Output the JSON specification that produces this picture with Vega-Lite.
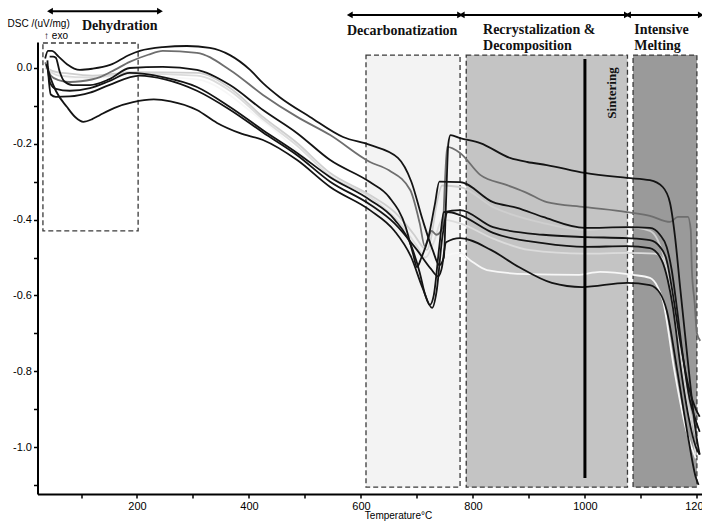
{
  "$schema": "https://vega.github.io/schema/vega-lite/v6.json",
  "width": 664.5,
  "height": 452,
  "autosize": {"type": "none"},
  "padding": {"left": 37.5, "top": 42, "right": 0, "bottom": 27},
  "background": "white",
  "config": {
    "view": {"stroke": null},
    "axis": {"grid": false, "domainColor": "#000", "tickColor": "#000", "labelColor": "#000", "titleColor": "#000", "labelFont": "Liberation Sans", "titleFont": "Liberation Sans"}
  },
  "datasets": {
    "boxes": [
      {"zone": "Dehydration", "T": 32, "T2": 202, "v": 0.066, "v2": -0.43},
      {"zone": "Decarbonatization", "T": 609, "T2": 777, "v": 0.034, "v2": -1.106},
      {"zone": "Recrystalization", "T": 788, "T2": 1076, "v": 0.034, "v2": -1.106},
      {"zone": "Melting", "T": 1086, "T2": 1200, "v": 0.034, "v2": -1.106}
    ],
    "sinter": [{"T": 1000, "v": 0.024, "v2": -1.082}],
    "arrows": [
      {"zone": "Dehydration", "T": 44.6, "T2": 241, "v": 0.150},
      {"zone": "Decarbonatization", "T": 580, "T2": 777, "v": 0.140},
      {"zone": "Recrystalization", "T": 780, "T2": 1075, "v": 0.140},
      {"zone": "Melting", "T": 1077, "T2": 1207, "v": 0.140}
    ],
    "labels": [
      {"text": "Dehydration", "T": 101.8, "v": 0.111},
      {"text": "Decarbonatization", "T": 575, "v": 0.098},
      {"text": "Recrystalization &", "T": 818, "v": 0.100},
      {"text": "Decomposition", "T": 818, "v": 0.058},
      {"text": "Intensive", "T": 1088, "v": 0.100},
      {"text": "Melting", "T": 1088, "v": 0.058}
    ],
    "sintlabel": [{"text": "Sintering", "T": 1048, "v": -0.066}],
    "exo": [{"text": "↑ exo", "T": 34, "v": 0.084}],
    "curves": [
      {"id": "a_W", "T": 38, "v": 0.0}, {"id": "a_W", "T": 100, "v": -0.03}, {"id": "a_W", "T": 187, "v": -0.02}, {"id": "a_W", "T": 307, "v": -0.03}, {"id": "a_W", "T": 425, "v": -0.14}, {"id": "a_W", "T": 545, "v": -0.29}, {"id": "a_W", "T": 616, "v": -0.35}, {"id": "a_W", "T": 680, "v": -0.43}, {"id": "a_W", "T": 710, "v": -0.49}, {"id": "a_W", "T": 730, "v": -0.52}, {"id": "a_W", "T": 745, "v": -0.5}, {"id": "a_W", "T": 777, "v": -0.488}, {"id": "a_W", "T": 795, "v": -0.507}, {"id": "a_W", "T": 825, "v": -0.533}, {"id": "a_W", "T": 897, "v": -0.544}, {"id": "a_W", "T": 986, "v": -0.546}, {"id": "a_W", "T": 1027, "v": -0.538}, {"id": "a_W", "T": 1086, "v": -0.546}, {"id": "a_W", "T": 1116, "v": -0.554}, {"id": "a_W", "T": 1130, "v": -0.578}, {"id": "a_W", "T": 1139, "v": -0.612}, {"id": "a_W", "T": 1160, "v": -0.8}, {"id": "a_W", "T": 1180, "v": -0.95}, {"id": "a_W", "T": 1198, "v": -1.03},

      {"id": "b_LG2", "T": 36, "v": 0.0}, {"id": "b_LG2", "T": 60, "v": -0.02}, {"id": "b_LG2", "T": 120, "v": -0.025}, {"id": "b_LG2", "T": 187, "v": -0.015}, {"id": "b_LG2", "T": 307, "v": -0.02}, {"id": "b_LG2", "T": 366, "v": -0.06}, {"id": "b_LG2", "T": 425, "v": -0.135}, {"id": "b_LG2", "T": 486, "v": -0.205}, {"id": "b_LG2", "T": 545, "v": -0.285}, {"id": "b_LG2", "T": 616, "v": -0.34}, {"id": "b_LG2", "T": 670, "v": -0.41}, {"id": "b_LG2", "T": 700, "v": -0.47}, {"id": "b_LG2", "T": 715, "v": -0.5}, {"id": "b_LG2", "T": 730, "v": -0.46}, {"id": "b_LG2", "T": 745, "v": -0.4}, {"id": "b_LG2", "T": 777, "v": -0.41}, {"id": "b_LG2", "T": 836, "v": -0.45}, {"id": "b_LG2", "T": 900, "v": -0.48}, {"id": "b_LG2", "T": 1000, "v": -0.49}, {"id": "b_LG2", "T": 1075, "v": -0.488}, {"id": "b_LG2", "T": 1125, "v": -0.49}, {"id": "b_LG2", "T": 1145, "v": -0.52}, {"id": "b_LG2", "T": 1160, "v": -0.62}, {"id": "b_LG2", "T": 1180, "v": -0.85}, {"id": "b_LG2", "T": 1198, "v": -1.02},

      {"id": "c_LG1", "T": 36, "v": 0.005}, {"id": "c_LG1", "T": 50, "v": -0.008}, {"id": "c_LG1", "T": 80, "v": -0.015}, {"id": "c_LG1", "T": 120, "v": -0.02}, {"id": "c_LG1", "T": 160, "v": -0.015}, {"id": "c_LG1", "T": 187, "v": -0.011}, {"id": "c_LG1", "T": 307, "v": -0.013}, {"id": "c_LG1", "T": 366, "v": -0.053}, {"id": "c_LG1", "T": 425, "v": -0.129}, {"id": "c_LG1", "T": 486, "v": -0.198}, {"id": "c_LG1", "T": 545, "v": -0.277}, {"id": "c_LG1", "T": 616, "v": -0.335}, {"id": "c_LG1", "T": 660, "v": -0.38}, {"id": "c_LG1", "T": 695, "v": -0.44}, {"id": "c_LG1", "T": 712, "v": -0.475}, {"id": "c_LG1", "T": 718, "v": -0.48}, {"id": "c_LG1", "T": 725, "v": -0.45}, {"id": "c_LG1", "T": 735, "v": -0.36}, {"id": "c_LG1", "T": 745, "v": -0.31}, {"id": "c_LG1", "T": 777, "v": -0.314}, {"id": "c_LG1", "T": 836, "v": -0.367}, {"id": "c_LG1", "T": 925, "v": -0.409}, {"id": "c_LG1", "T": 1000, "v": -0.427}, {"id": "c_LG1", "T": 1075, "v": -0.42}, {"id": "c_LG1", "T": 1116, "v": -0.43}, {"id": "c_LG1", "T": 1130, "v": -0.454}, {"id": "c_LG1", "T": 1139, "v": -0.488}, {"id": "c_LG1", "T": 1146, "v": -0.533}, {"id": "c_LG1", "T": 1160, "v": -0.65}, {"id": "c_LG1", "T": 1180, "v": -0.85}, {"id": "c_LG1", "T": 1198, "v": -0.97},

      {"id": "d_K2", "T": 36, "v": 0.015}, {"id": "d_K2", "T": 40, "v": 0.0}, {"id": "d_K2", "T": 46, "v": -0.02}, {"id": "d_K2", "T": 60, "v": -0.032}, {"id": "d_K2", "T": 80, "v": -0.037}, {"id": "d_K2", "T": 100, "v": -0.035}, {"id": "d_K2", "T": 134, "v": -0.024}, {"id": "d_K2", "T": 160, "v": -0.005}, {"id": "d_K2", "T": 187, "v": 0.016}, {"id": "d_K2", "T": 220, "v": 0.035}, {"id": "d_K2", "T": 246, "v": 0.045}, {"id": "d_K2", "T": 307, "v": 0.04}, {"id": "d_K2", "T": 366, "v": -0.005}, {"id": "d_K2", "T": 425, "v": -0.071}, {"id": "d_K2", "T": 486, "v": -0.129}, {"id": "d_K2", "T": 545, "v": -0.177}, {"id": "d_K2", "T": 616, "v": -0.248}, {"id": "d_K2", "T": 650, "v": -0.27}, {"id": "d_K2", "T": 688, "v": -0.322}, {"id": "d_K2", "T": 705, "v": -0.41}, {"id": "d_K2", "T": 714, "v": -0.47}, {"id": "d_K2", "T": 720, "v": -0.45}, {"id": "d_K2", "T": 726, "v": -0.43}, {"id": "d_K2", "T": 735, "v": -0.44}, {"id": "d_K2", "T": 746, "v": -0.42}, {"id": "d_K2", "T": 750, "v": -0.3}, {"id": "d_K2", "T": 754, "v": -0.208}, {"id": "d_K2", "T": 777, "v": -0.224}, {"id": "d_K2", "T": 813, "v": -0.282}, {"id": "d_K2", "T": 861, "v": -0.309}, {"id": "d_K2", "T": 897, "v": -0.33}, {"id": "d_K2", "T": 932, "v": -0.354}, {"id": "d_K2", "T": 1000, "v": -0.367}, {"id": "d_K2", "T": 1075, "v": -0.38}, {"id": "d_K2", "T": 1116, "v": -0.39}, {"id": "d_K2", "T": 1152, "v": -0.406}, {"id": "d_K2", "T": 1166, "v": -0.393}, {"id": "d_K2", "T": 1184, "v": -0.393}, {"id": "d_K2", "T": 1189, "v": -0.427}, {"id": "d_K2", "T": 1191, "v": -0.533}, {"id": "d_K2", "T": 1196, "v": -0.62}, {"id": "d_K2", "T": 1200, "v": -0.7}, {"id": "d_K2", "T": 1206, "v": -0.72},

      {"id": "e_K1", "T": 36, "v": 0.025}, {"id": "e_K1", "T": 41, "v": 0.045}, {"id": "e_K1", "T": 48, "v": 0.045}, {"id": "e_K1", "T": 60, "v": 0.03}, {"id": "e_K1", "T": 75, "v": 0.01}, {"id": "e_K1", "T": 98, "v": -0.005}, {"id": "e_K1", "T": 120, "v": -0.002}, {"id": "e_K1", "T": 152, "v": 0.008}, {"id": "e_K1", "T": 187, "v": 0.035}, {"id": "e_K1", "T": 205, "v": 0.045}, {"id": "e_K1", "T": 246, "v": 0.055}, {"id": "e_K1", "T": 289, "v": 0.058}, {"id": "e_K1", "T": 330, "v": 0.053}, {"id": "e_K1", "T": 366, "v": 0.034}, {"id": "e_K1", "T": 402, "v": -0.005}, {"id": "e_K1", "T": 425, "v": -0.04}, {"id": "e_K1", "T": 455, "v": -0.077}, {"id": "e_K1", "T": 509, "v": -0.129}, {"id": "e_K1", "T": 568, "v": -0.182}, {"id": "e_K1", "T": 616, "v": -0.203}, {"id": "e_K1", "T": 666, "v": -0.237}, {"id": "e_K1", "T": 690, "v": -0.3}, {"id": "e_K1", "T": 710, "v": -0.4}, {"id": "e_K1", "T": 728, "v": -0.48}, {"id": "e_K1", "T": 740, "v": -0.52}, {"id": "e_K1", "T": 748, "v": -0.5}, {"id": "e_K1", "T": 752, "v": -0.35}, {"id": "e_K1", "T": 756, "v": -0.2}, {"id": "e_K1", "T": 760, "v": -0.177}, {"id": "e_K1", "T": 777, "v": -0.185}, {"id": "e_K1", "T": 813, "v": -0.198}, {"id": "e_K1", "T": 866, "v": -0.237}, {"id": "e_K1", "T": 897, "v": -0.248}, {"id": "e_K1", "T": 932, "v": -0.256}, {"id": "e_K1", "T": 1000, "v": -0.277}, {"id": "e_K1", "T": 1075, "v": -0.29}, {"id": "e_K1", "T": 1116, "v": -0.296}, {"id": "e_K1", "T": 1139, "v": -0.314}, {"id": "e_K1", "T": 1152, "v": -0.356}, {"id": "e_K1", "T": 1161, "v": -0.446}, {"id": "e_K1", "T": 1170, "v": -0.578}, {"id": "e_K1", "T": 1180, "v": -0.72}, {"id": "e_K1", "T": 1190, "v": -0.86}, {"id": "e_K1", "T": 1200, "v": -0.98}, {"id": "e_K1", "T": 1205, "v": -1.02},

      {"id": "f_K3", "T": 44, "v": 0.03}, {"id": "f_K3", "T": 50, "v": 0.03}, {"id": "f_K3", "T": 55, "v": 0.027}, {"id": "f_K3", "T": 62, "v": -0.01}, {"id": "f_K3", "T": 70, "v": -0.035}, {"id": "f_K3", "T": 85, "v": -0.045}, {"id": "f_K3", "T": 116, "v": -0.045}, {"id": "f_K3", "T": 150, "v": -0.03}, {"id": "f_K3", "T": 187, "v": 0.0}, {"id": "f_K3", "T": 246, "v": 0.003}, {"id": "f_K3", "T": 307, "v": -0.005}, {"id": "f_K3", "T": 366, "v": -0.045}, {"id": "f_K3", "T": 425, "v": -0.111}, {"id": "f_K3", "T": 486, "v": -0.172}, {"id": "f_K3", "T": 545, "v": -0.243}, {"id": "f_K3", "T": 616, "v": -0.301}, {"id": "f_K3", "T": 650, "v": -0.34}, {"id": "f_K3", "T": 680, "v": -0.42}, {"id": "f_K3", "T": 693, "v": -0.49}, {"id": "f_K3", "T": 700, "v": -0.525}, {"id": "f_K3", "T": 708, "v": -0.5}, {"id": "f_K3", "T": 720, "v": -0.45}, {"id": "f_K3", "T": 732, "v": -0.36}, {"id": "f_K3", "T": 740, "v": -0.3}, {"id": "f_K3", "T": 777, "v": -0.301}, {"id": "f_K3", "T": 836, "v": -0.354}, {"id": "f_K3", "T": 879, "v": -0.369}, {"id": "f_K3", "T": 925, "v": -0.393}, {"id": "f_K3", "T": 1000, "v": -0.422}, {"id": "f_K3", "T": 1075, "v": -0.42}, {"id": "f_K3", "T": 1116, "v": -0.422}, {"id": "f_K3", "T": 1134, "v": -0.44}, {"id": "f_K3", "T": 1146, "v": -0.472}, {"id": "f_K3", "T": 1155, "v": -0.533}, {"id": "f_K3", "T": 1164, "v": -0.63}, {"id": "f_K3", "T": 1175, "v": -0.76}, {"id": "f_K3", "T": 1188, "v": -0.88}, {"id": "f_K3", "T": 1198, "v": -0.93}, {"id": "f_K3", "T": 1205, "v": -0.96},

      {"id": "g_K4", "T": 40, "v": 0.005}, {"id": "g_K4", "T": 45, "v": -0.04}, {"id": "g_K4", "T": 55, "v": -0.055}, {"id": "g_K4", "T": 80, "v": -0.06}, {"id": "g_K4", "T": 116, "v": -0.053}, {"id": "g_K4", "T": 150, "v": -0.035}, {"id": "g_K4", "T": 187, "v": -0.013}, {"id": "g_K4", "T": 246, "v": -0.024}, {"id": "g_K4", "T": 307, "v": -0.05}, {"id": "g_K4", "T": 366, "v": -0.103}, {"id": "g_K4", "T": 425, "v": -0.164}, {"id": "g_K4", "T": 486, "v": -0.224}, {"id": "g_K4", "T": 545, "v": -0.288}, {"id": "g_K4", "T": 616, "v": -0.348}, {"id": "g_K4", "T": 660, "v": -0.4}, {"id": "g_K4", "T": 690, "v": -0.47}, {"id": "g_K4", "T": 705, "v": -0.54}, {"id": "g_K4", "T": 715, "v": -0.6}, {"id": "g_K4", "T": 723, "v": -0.625}, {"id": "g_K4", "T": 730, "v": -0.6}, {"id": "g_K4", "T": 740, "v": -0.47}, {"id": "g_K4", "T": 748, "v": -0.38}, {"id": "g_K4", "T": 777, "v": -0.375}, {"id": "g_K4", "T": 836, "v": -0.42}, {"id": "g_K4", "T": 925, "v": -0.44}, {"id": "g_K4", "T": 1000, "v": -0.446}, {"id": "g_K4", "T": 1075, "v": -0.449}, {"id": "g_K4", "T": 1116, "v": -0.454}, {"id": "g_K4", "T": 1134, "v": -0.472}, {"id": "g_K4", "T": 1146, "v": -0.507}, {"id": "g_K4", "T": 1155, "v": -0.578}, {"id": "g_K4", "T": 1170, "v": -0.72}, {"id": "g_K4", "T": 1185, "v": -0.84}, {"id": "g_K4", "T": 1198, "v": -0.9}, {"id": "g_K4", "T": 1205, "v": -0.92},

      {"id": "h_K5", "T": 38, "v": 0.01}, {"id": "h_K5", "T": 42, "v": -0.01}, {"id": "h_K5", "T": 45, "v": -0.024}, {"id": "h_K5", "T": 55, "v": -0.06}, {"id": "h_K5", "T": 75, "v": -0.103}, {"id": "h_K5", "T": 90, "v": -0.13}, {"id": "h_K5", "T": 104, "v": -0.142}, {"id": "h_K5", "T": 120, "v": -0.135}, {"id": "h_K5", "T": 134, "v": -0.124}, {"id": "h_K5", "T": 160, "v": -0.105}, {"id": "h_K5", "T": 193, "v": -0.09}, {"id": "h_K5", "T": 230, "v": -0.083}, {"id": "h_K5", "T": 260, "v": -0.088}, {"id": "h_K5", "T": 307, "v": -0.111}, {"id": "h_K5", "T": 343, "v": -0.145}, {"id": "h_K5", "T": 384, "v": -0.172}, {"id": "h_K5", "T": 425, "v": -0.19}, {"id": "h_K5", "T": 486, "v": -0.243}, {"id": "h_K5", "T": 545, "v": -0.314}, {"id": "h_K5", "T": 616, "v": -0.375}, {"id": "h_K5", "T": 660, "v": -0.43}, {"id": "h_K5", "T": 690, "v": -0.5}, {"id": "h_K5", "T": 710, "v": -0.58}, {"id": "h_K5", "T": 727, "v": -0.633}, {"id": "h_K5", "T": 735, "v": -0.59}, {"id": "h_K5", "T": 745, "v": -0.45}, {"id": "h_K5", "T": 755, "v": -0.38}, {"id": "h_K5", "T": 777, "v": -0.388}, {"id": "h_K5", "T": 836, "v": -0.435}, {"id": "h_K5", "T": 925, "v": -0.462}, {"id": "h_K5", "T": 1000, "v": -0.472}, {"id": "h_K5", "T": 1075, "v": -0.47}, {"id": "h_K5", "T": 1116, "v": -0.475}, {"id": "h_K5", "T": 1137, "v": -0.507}, {"id": "h_K5", "T": 1148, "v": -0.56}, {"id": "h_K5", "T": 1157, "v": -0.63}, {"id": "h_K5", "T": 1170, "v": -0.78}, {"id": "h_K5", "T": 1185, "v": -0.92}, {"id": "h_K5", "T": 1198, "v": -1.0}, {"id": "h_K5", "T": 1205, "v": -1.02},

      {"id": "i_K6", "T": 40, "v": 0.02}, {"id": "i_K6", "T": 43, "v": -0.04}, {"id": "i_K6", "T": 46, "v": -0.07}, {"id": "i_K6", "T": 55, "v": -0.076}, {"id": "i_K6", "T": 80, "v": -0.075}, {"id": "i_K6", "T": 116, "v": -0.065}, {"id": "i_K6", "T": 150, "v": -0.045}, {"id": "i_K6", "T": 205, "v": -0.02}, {"id": "i_K6", "T": 250, "v": -0.03}, {"id": "i_K6", "T": 307, "v": -0.06}, {"id": "i_K6", "T": 366, "v": -0.11}, {"id": "i_K6", "T": 425, "v": -0.17}, {"id": "i_K6", "T": 486, "v": -0.23}, {"id": "i_K6", "T": 545, "v": -0.3}, {"id": "i_K6", "T": 616, "v": -0.36}, {"id": "i_K6", "T": 660, "v": -0.41}, {"id": "i_K6", "T": 700, "v": -0.48}, {"id": "i_K6", "T": 725, "v": -0.53}, {"id": "i_K6", "T": 738, "v": -0.55}, {"id": "i_K6", "T": 744, "v": -0.53}, {"id": "i_K6", "T": 752, "v": -0.46}, {"id": "i_K6", "T": 777, "v": -0.449}, {"id": "i_K6", "T": 832, "v": -0.48}, {"id": "i_K6", "T": 882, "v": -0.525}, {"id": "i_K6", "T": 941, "v": -0.567}, {"id": "i_K6", "T": 995, "v": -0.578}, {"id": "i_K6", "T": 1075, "v": -0.567}, {"id": "i_K6", "T": 1116, "v": -0.573}, {"id": "i_K6", "T": 1134, "v": -0.594}, {"id": "i_K6", "T": 1146, "v": -0.639}, {"id": "i_K6", "T": 1165, "v": -0.8}, {"id": "i_K6", "T": 1185, "v": -0.98}, {"id": "i_K6", "T": 1198, "v": -1.08}, {"id": "i_K6", "T": 1203, "v": -1.1}
    ]
  },
  "layer": [
    {
      "data": {"name": "boxes"},
      "mark": {"type": "rect", "stroke": "#3a3a3a", "strokeWidth": 1.3, "strokeDash": [5, 3]},
      "encoding": {
        "x": {"field": "T", "type": "quantitative", "title": "Temperature°C",
          "scale": {"domain": [22.3, 1209.1], "nice": false, "zero": false},
          "axis": {"values": [100, 200, 300, 400, 500, 600, 700, 800, 900, 1000, 1100, 1200], "format": "d",
            "labelExpr": "datum.value % 200 == 0 ? datum.label : ''",
            "labelFontSize": 11, "labelPadding": 2, "tickSize": 4, "tickWidth": 1.5, "domainWidth": 2,
            "labelFlush": false, "labelOverlap": false,
            "titleFontSize": 10, "titleFontWeight": "normal", "titleX": 360.5, "titleY": 21, "titleBaseline": "middle", "titleAlign": "center"}},
        "x2": {"field": "T2"},
        "y": {"field": "v", "type": "quantitative", "title": "DSC /(uV/mg)",
          "scale": {"domain": [-1.124, 0.0686], "nice": false, "zero": false},
          "axis": {"values": [-1.1, -1.0, -0.9, -0.8, -0.7, -0.6, -0.5, -0.4, -0.3, -0.2, -0.1, 0.0],
            "labelExpr": "abs(round(datum.value*10)) % 2 == 0 ? (datum.value < -0.001 ? '-' : '') + format(abs(datum.value), '.1f') : ''",
            "labelFontSize": 11, "labelPadding": 2, "tickSize": 4, "tickWidth": 1.5, "domainWidth": 2, "labelFlush": false, "labelOverlap": false,
            "titleAngle": 0, "titleFontSize": 10, "titleFontWeight": "normal", "titleX": -30.5, "titleY": -19, "titleAlign": "left", "titleBaseline": "middle"}},
        "y2": {"field": "v2"},
        "fill": {"field": "zone", "type": "nominal", "legend": null,
          "scale": {"domain": ["Dehydration", "Decarbonatization", "Recrystalization", "Melting"], "range": ["transparent", "#f3f3f3", "#c4c4c4", "#9a9a9a"]}}
      }
    },
    {
      "data": {"name": "curves"},
      "mark": {"type": "line", "strokeWidth": 1.8, "interpolate": "monotone"},
      "encoding": {
        "x": {"field": "T", "type": "quantitative", "title": "Temperature°C"},
        "y": {"field": "v", "type": "quantitative", "title": "DSC /(uV/mg)"},
        "color": {"field": "id", "type": "nominal", "legend": null,
          "scale": {"domain": ["a_W", "b_LG2", "c_LG1", "d_K2", "e_K1", "f_K3", "g_K4", "h_K5", "i_K6"],
            "range": ["#f7f7f7", "#dcdcdc", "#cfcfcf", "#6e6e6e", "#141414", "#141414", "#141414", "#141414", "#141414"]}}
      }
    },
    {
      "data": {"name": "sinter"},
      "mark": {"type": "rule", "color": "#000", "strokeWidth": 3},
      "encoding": {
        "x": {"field": "T", "type": "quantitative", "title": "Temperature°C"},
        "y": {"field": "v", "type": "quantitative", "title": "DSC /(uV/mg)"},
        "y2": {"field": "v2"}
      }
    },
    {
      "data": {"name": "arrows"},
      "mark": {"type": "rule", "color": "#000", "strokeWidth": 2},
      "encoding": {
        "x": {"field": "T", "type": "quantitative", "title": "Temperature°C"},
        "x2": {"field": "T2"},
        "y": {"field": "v", "type": "quantitative", "title": "DSC /(uV/mg)"}
      }
    },
    {
      "data": {"name": "arrows"},
      "transform": [{"fold": ["T", "T2"], "as": ["end", "Tend"]}],
      "mark": {"type": "point", "filled": true, "color": "#000", "size": 45, "opacity": 1},
      "encoding": {
        "x": {"field": "Tend", "type": "quantitative", "title": "Temperature°C"},
        "y": {"field": "v", "type": "quantitative", "title": "DSC /(uV/mg)"},
        "shape": {"field": "end", "type": "nominal", "legend": null,
          "scale": {"domain": ["T", "T2"], "range": ["triangle-left", "triangle-right"]}}
      }
    },
    {
      "data": {"name": "labels"},
      "mark": {"type": "text", "font": "Liberation Serif", "fontWeight": "bold", "fontSize": 14, "align": "left", "baseline": "middle", "color": "#111"},
      "encoding": {
        "x": {"field": "T", "type": "quantitative", "title": "Temperature°C"},
        "y": {"field": "v", "type": "quantitative", "title": "DSC /(uV/mg)"},
        "text": {"field": "text"}
      }
    },
    {
      "data": {"name": "sintlabel"},
      "mark": {"type": "text", "font": "Liberation Serif", "fontWeight": "bold", "fontSize": 13, "align": "center", "baseline": "middle", "angle": 270, "color": "#111"},
      "encoding": {
        "x": {"field": "T", "type": "quantitative", "title": "Temperature°C"},
        "y": {"field": "v", "type": "quantitative", "title": "DSC /(uV/mg)"},
        "text": {"field": "text"}
      }
    },
    {
      "data": {"name": "exo"},
      "mark": {"type": "text", "font": "Liberation Sans", "fontSize": 10, "align": "left", "baseline": "middle", "color": "#000"},
      "encoding": {
        "x": {"field": "T", "type": "quantitative", "title": "Temperature°C"},
        "y": {"field": "v", "type": "quantitative", "title": "DSC /(uV/mg)"},
        "text": {"field": "text"}
      }
    }
  ]
}
